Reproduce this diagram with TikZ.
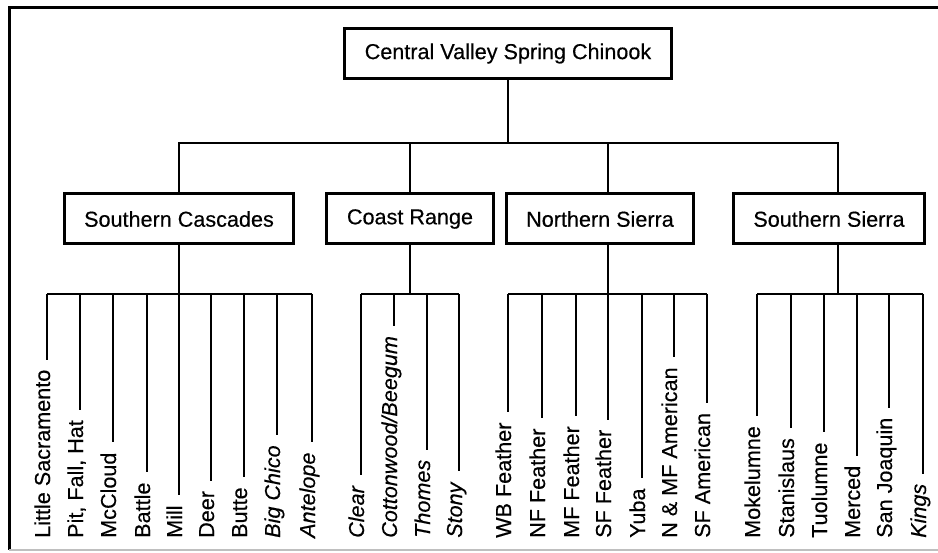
\documentclass[tikz,border=0pt]{standalone}
\usepackage{fontspec}
\setmainfont{Liberation Sans}[FakeBold=0.35]
\usepackage{xcolor}
\usetikzlibrary{positioning, calc}
\tikzset{
    every node/.style={font=\fontsize{21.6}{24}\selectfont}, % one size for every label
    group/.style={draw, line width=3pt, inner xsep=20pt, minimum height=50pt}, % boxed population groups
    stream/.style={rotate=90, anchor=base west, inner sep=0pt}, % rotated stream names
}
\tikzstyle{link} = [line width=2.4pt]
\tikzstyle{drop} = [line width=2.4pt, shorten >=10pt]

\begin{document}
\begin{tikzpicture}[x=1pt, y=-1pt]
    \useasboundingbox (0,0) rectangle (938,553);
    % frame
    \draw[line width=3pt] (938,7.5) -- (9,7.5) -- (9,550);
    \draw[gray!50, line width=1.5pt] (9,550) -- (938,550);

    \node[group] (root) at (508,53.5) {Central Valley Spring Chinook};
    \node[group] (sc) at (179,219) {Southern Cascades};
    \node[group] (cr) at (410,219) {Coast Range};
    \node[group] (ns) at (600,219) {Northern Sierra};
    \node[group] (ss) at (829,219) {Southern Sierra};

    % Southern Cascades
    \foreach \x/\name [count=\i] in {47/Little Sacramento, 80/{Pit, Fall, Hat}, 113/McCloud, 147/Battle, 179/Mill, 211/Deer, 244/Butte, 277/\textit{Big Chico}, 312/\textit{Antelope}}{
        \coordinate (sc top\i) at (\x,294);
        \node[stream] (sc leaf\i) at (\x+3,538) {\name};
        \draw[drop] (sc top\i) -- (sc top\i |- sc leaf\i.east);
    }
    % Coast Range
    \foreach \x/\name [count=\i] in {361/\textit{Clear}, 394/\textit{Cottonwood/Beegum}, 427/\textit{Thomes}, 459/\textit{Stony}}{
        \coordinate (cr top\i) at (\x,294);
        \node[stream] (cr leaf\i) at (\x+3,538) {\name};
        \draw[drop] (cr top\i) -- (cr top\i |- cr leaf\i.east);
    }
    % Northern Sierra
    \foreach \x/\name [count=\i] in {508/WB Feather, 542/NF Feather, 576/MF Feather, 608/SF Feather, 642/Yuba, 674/N \& MF American, 707/SF American}{
        \coordinate (ns top\i) at (\x,294);
        \node[stream] (ns leaf\i) at (\x+3,538) {\name};
        \draw[drop] (ns top\i) -- (ns top\i |- ns leaf\i.east);
    }
    % Southern Sierra
    \foreach \x/\name [count=\i] in {757/Mokelumne, 791/Stanislaus, 824/Tuolumne, 857/Merced, 889/San Joaquin, 923/\textit{Kings}}{
        \coordinate (ss top\i) at (\x,294);
        \node[stream] (ss leaf\i) at (\x+3,538) {\name};
        \draw[drop] (ss top\i) -- (ss top\i |- ss leaf\i.east);
    }

    % bars under the groups
    \draw[link] (sc top1) -- (sc top9);
    \draw[link] (cr top1) -- (cr top4);
    \draw[link] (ns top1) -- (ns top7);
    \draw[link] (ss top1) -- (ss top6);
    \draw[link] (sc top5 |- sc.south) -- (sc top5);
    \draw[link] (cr.south) -- (cr.south |- cr top1);
    \draw[link] (ns top4 |- ns.south) -- (ns top4);
    \draw[link] ([xshift=9pt]ss.south) -- ([xshift=9pt]ss.south |- ss top1);

    % top level
    \coordinate (hub) at (508,143);
    \draw[link] (root) -- (hub);
    \draw[link] (sc top5 |- sc.north) |- (hub);
    \draw[link] (cr.north) |- (hub);
    \draw[link] (ns top4 |- ns.north) |- (hub);
    \draw[link] ([xshift=9pt]ss.north) |- (hub);
\end{tikzpicture}
\end{document}
